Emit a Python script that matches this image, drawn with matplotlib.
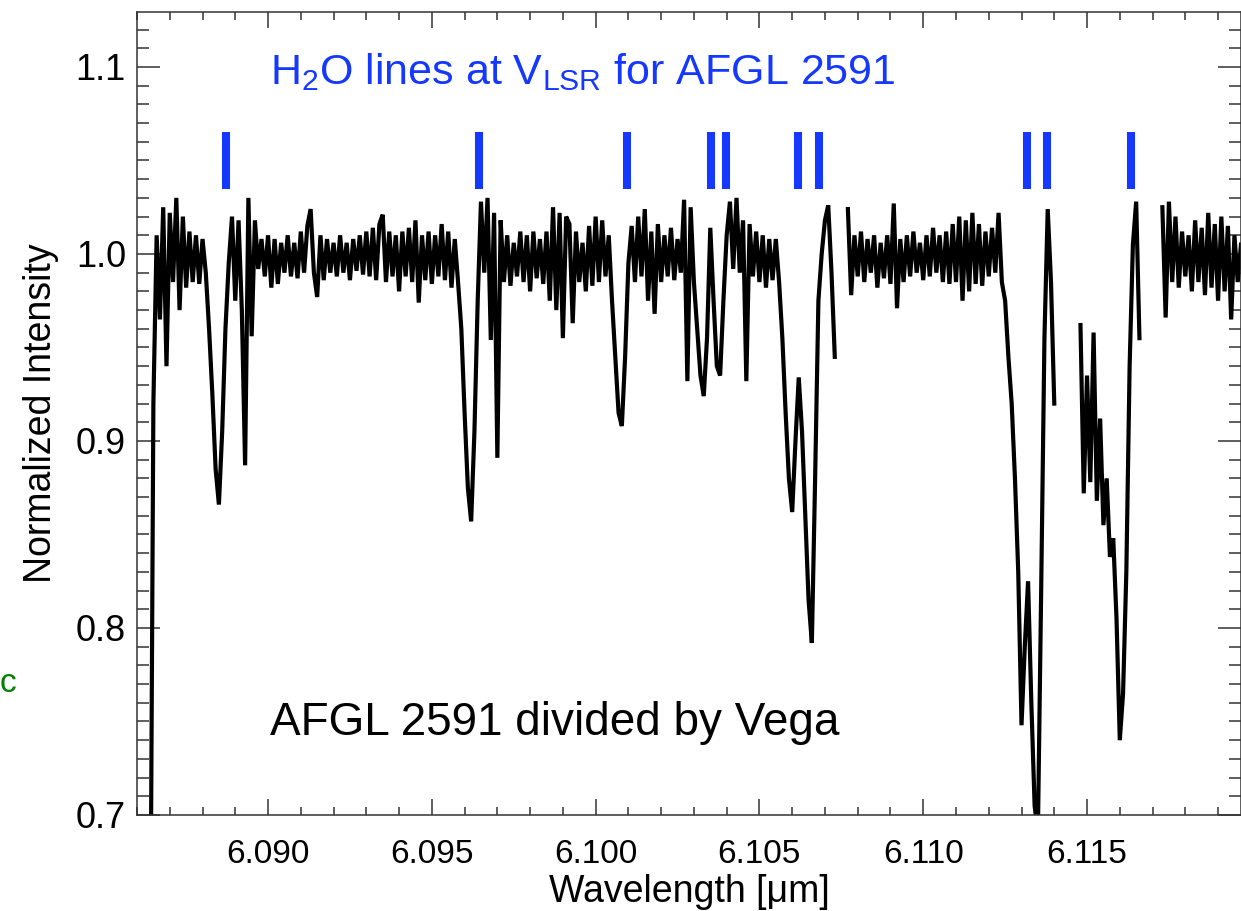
import numpy as np
import matplotlib
matplotlib.use("Agg")
import matplotlib.pyplot as plt
from matplotlib.ticker import MultipleLocator, FormatStrFormatter

plt.rcParams['font.family'] = ['Liberation Sans', 'DejaVu Sans']
plt.rcParams['mathtext.fontset'] = 'custom'
plt.rcParams['mathtext.rm'] = 'Liberation Sans'

# spectrum segments: start wavelength [um], uniform step, normalized intensity
step = 0.0001

seg1_start = 6.0864
seg1_flux = [
    0.60, 0.92, 1.010, 0.965, 1.025, 0.940, 1.022, 0.985, 1.030, 0.970,
    1.020, 0.982, 1.012, 0.985, 1.010, 0.984, 1.008, 0.990, 0.960, 0.925,
    0.885, 0.866, 0.905, 0.960, 0.995, 1.020, 0.975, 1.018, 0.970, 0.887,
    1.030, 0.956, 1.018, 0.992, 1.008, 0.988, 1.010, 0.982, 1.008, 0.984,
    1.006, 0.990, 1.010, 0.988, 1.006, 0.987, 1.012, 0.990, 1.015, 1.024,
    0.990, 0.977, 1.010, 0.986, 1.008, 0.990, 1.006, 0.988, 1.010, 0.990,
    1.006, 0.986, 1.008, 0.991, 1.010, 0.989, 1.012, 0.988, 1.014, 0.986,
    1.016, 1.021, 0.985, 1.012, 0.988, 1.010, 0.980, 1.012, 0.988, 1.014,
    0.985, 1.018, 0.974, 1.010, 0.986, 1.012, 0.984, 1.010, 0.988, 1.016,
    0.986, 1.012, 0.982, 1.008, 0.985, 0.960, 0.915, 0.875, 0.857, 0.905,
    0.975, 1.028, 0.990, 1.030, 0.954, 1.022, 0.891, 1.018, 0.985, 1.010,
    0.983, 1.006, 0.988, 1.012, 0.985, 1.010, 0.980, 1.012, 0.987, 1.008,
    0.984, 1.012, 0.975, 1.025, 0.970, 1.022, 0.955, 1.020, 1.016, 0.963,
    1.012, 0.985, 1.006, 0.980, 1.015, 0.983, 1.020, 0.985, 1.018, 0.988,
    1.010, 0.975, 0.945, 0.915, 0.908, 0.945, 0.995, 1.015, 0.985, 1.020,
    0.988, 1.024, 0.975, 1.012, 0.968, 1.016, 0.985, 1.010, 0.988, 1.014,
    0.986, 1.008, 0.990, 1.029, 0.932, 1.025, 0.985, 0.960, 0.935, 0.924,
    0.955, 1.014, 0.975, 0.940, 0.935, 0.975, 1.010, 1.028, 0.992, 1.030,
    0.990, 1.018, 0.932, 1.016, 0.988, 1.012, 0.985, 1.010, 0.982, 1.008,
    0.986, 1.008, 0.985, 0.955, 0.915, 0.880, 0.862, 0.900, 0.934, 0.905,
    0.860, 0.815, 0.792, 0.880, 0.975, 1.000, 1.018, 1.026, 0.990, 0.945,
]

seg2_start = 6.1077
seg2_flux = [
    1.024, 0.978, 1.010, 0.988, 1.012, 0.985, 1.008, 0.990, 1.010, 0.982,
    1.006, 0.987, 1.010, 0.984, 1.027, 0.971, 1.008, 0.985, 1.010, 0.988,
    1.012, 0.990, 1.006, 0.986, 1.010, 0.988, 1.014, 0.990, 1.010, 0.985,
    1.012, 0.984, 1.016, 0.985, 1.020, 0.975, 1.018, 0.980, 1.022, 0.984,
    1.016, 0.983, 1.012, 0.988, 1.014, 0.990, 1.022, 0.985, 0.975, 0.945,
    0.920, 0.880, 0.830, 0.748, 0.790, 0.825, 0.760, 0.705, 0.690, 0.820,
    0.955, 1.024, 0.985, 0.920,
]

seg3_start = 6.1148
seg3_flux = [
    0.962, 0.872, 0.935, 0.878, 0.958, 0.868, 0.912, 0.855, 0.880, 0.838,
    0.848, 0.805, 0.740, 0.765, 0.830, 0.940, 1.005, 1.028, 0.955,
]

seg4_start = 6.1173
seg4_flux = [
    1.025, 0.966, 1.028, 0.985, 1.020, 0.982, 1.012, 0.988, 1.010, 0.980,
    1.018, 0.985, 1.014, 0.978, 1.022, 0.982, 1.016, 0.975, 1.020, 0.980,
    1.015, 0.965, 1.010, 0.985, 1.005,
]

# H2O line positions at V_LSR
h2o_lines = [6.08871, 6.09643, 6.10097, 6.10353, 6.10399,
             6.10618, 6.10682, 6.11316, 6.11377, 6.11634]

blue = '#1438ff'

fig = plt.figure(figsize=(12.41, 9.11), dpi=100)
ax = fig.add_axes([137 / 1241, 96 / 911, 1104 / 1241, 803 / 911])

for start, flux in [(seg1_start, seg1_flux), (seg2_start, seg2_flux),
                    (seg3_start, seg3_flux), (seg4_start, seg4_flux)]:
    wl = start + step * np.arange(len(flux))
    ax.plot(wl, flux, color='black', lw=3.0, solid_joinstyle='miter')

ax.vlines(h2o_lines, 1.035, 1.065, color=blue, lw=5.8)

ax.set_xlim(6.086, 6.1197)
ax.set_ylim(0.70, 1.1294)

ax.xaxis.set_major_locator(MultipleLocator(0.005))
ax.xaxis.set_minor_locator(MultipleLocator(0.001))
ax.yaxis.set_major_locator(MultipleLocator(0.1))
ax.yaxis.set_minor_locator(MultipleLocator(0.01))
ax.xaxis.set_major_formatter(FormatStrFormatter('%.3f'))
ax.yaxis.set_major_formatter(FormatStrFormatter('%.1f'))

ax.tick_params(axis='both', which='both', direction='in', top=True, right=True,
               color='#333333', width=1.1)
ax.tick_params(axis='x', which='major', length=11.5, labelsize=24, pad=17)
ax.tick_params(axis='x', which='minor', length=5.8)
ax.tick_params(axis='y', which='major', length=16.5, labelsize=26, pad=8)
ax.tick_params(axis='y', which='minor', length=8.4)
for s in ax.spines.values():
    s.set_linewidth(1.1)
    s.set_color('#333333')

ax.set_xlabel('Wavelength [\u03bcm]', fontsize=27, labelpad=3)
ax.set_ylabel('Normalized Intensity', fontsize=27, labelpad=12)

ax.text(0.1205, 0.925, r'H$_\mathrm{2}$O lines at V$_\mathrm{LSR}$ for AFGL 2591',
        transform=ax.transAxes, fontsize=31, color=blue, va='center', ha='left')
ax.text(0.1205, 0.115, 'AFGL 2591 divided by Vega', transform=ax.transAxes,
        fontsize=33, color='black', va='center', ha='left')

fig.text(0.0, 1 - 684 / 911, 'c', color='green', fontsize=24,
         va='center', ha='left')

fig.savefig('out.png', dpi=100)
